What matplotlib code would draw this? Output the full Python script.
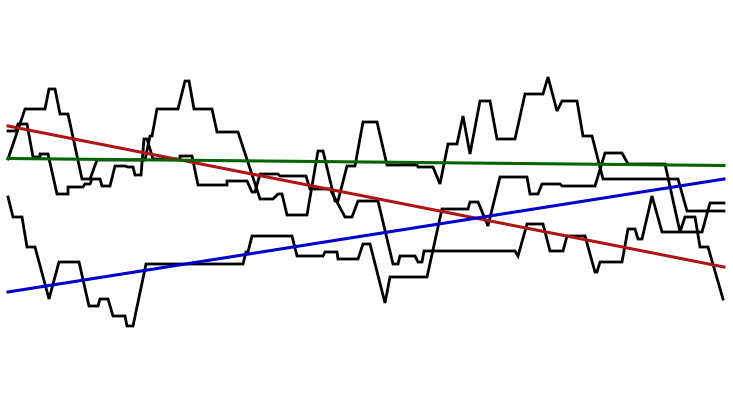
import numpy as np
import matplotlib
matplotlib.use("Agg")
import matplotlib.pyplot as plt

# three walks (x = position, y = level, axis runs downward)
walk_a_x = [8, 25, 45, 49, 55, 60, 68, 82, 90, 97, 145, 150, 152, 157, 178, 185, 189, 194, 212, 217,
            238, 260, 273, 278, 282, 287, 307, 318, 323, 335, 338, 347, 355, 363, 377, 387, 417, 418, 433, 440,
            448, 457, 463, 470, 480, 490, 497, 515, 525, 543, 548, 557, 562, 577, 583, 592, 603, 678, 687, 724]
walk_a_y = [160, 110, 110, 90, 90, 115, 115, 180, 180, 161, 161, 137, 137, 110, 110, 82, 82, 110, 110, 133,
            133, 200, 200, 195, 195, 216, 216, 152, 152, 202, 202, 167, 167, 123, 123, 166, 166, 168, 168, 185,
            145, 145, 117, 155, 102, 102, 140, 140, 95, 95, 78, 112, 102, 102, 137, 137, 180, 180, 212, 212]

walk_b_x = [8, 13, 22, 27, 35, 49, 59, 79, 89, 98, 100, 108, 113, 125, 127, 133, 146, 243, 246, 248,
            252, 292, 297, 323, 325, 337, 338, 358, 363, 370, 385, 390, 427, 442, 468, 470, 478, 488, 500, 527,
            530, 538, 542, 560, 562, 595, 605, 622, 628, 665, 680, 685, 695, 700, 708, 723]
walk_b_y = [198, 218, 218, 248, 248, 300, 263, 263, 307, 307, 300, 300, 317, 317, 327, 327, 265, 265, 253, 253,
            237, 237, 257, 257, 253, 253, 260, 260, 245, 245, 304, 278, 278, 210, 210, 203, 203, 227, 178, 178,
            195, 195, 185, 185, 187, 187, 154, 154, 165, 165, 233, 218, 218, 248, 248, 300]

walk_c_x = [8, 16, 18, 27, 33, 40, 40, 48, 57, 68, 68, 83, 85, 90, 92, 100, 102, 110, 115, 125,
            128, 133, 135, 141, 144, 147, 153, 180, 180, 192, 198, 227, 227, 247, 252, 255, 260, 278, 280, 306,
            310, 330, 345, 352, 358, 378, 393, 398, 400, 415, 418, 422, 424, 515, 518, 527, 543, 550, 563, 567,
            585, 595, 597, 600, 622, 628, 635, 638, 642, 652, 662, 702, 710, 724]
walk_c_y = [132, 132, 125, 125, 158, 158, 155, 155, 195, 195, 188, 188, 185, 185, 180, 180, 187, 187, 167, 167,
            168, 168, 176, 176, 140, 140, 160, 160, 157, 157, 186, 186, 182, 182, 193, 193, 175, 175, 177, 177,
            190, 190, 218, 218, 202, 202, 265, 265, 257, 257, 263, 263, 252, 252, 257, 225, 225, 252, 252, 237,
            237, 273, 273, 263, 263, 230, 230, 240, 240, 197, 233, 233, 204, 204]

# trend lines: start and end of each
trend_x = [8, 724]
trend_red = [127, 268]
trend_green = [159.5, 166.5]
trend_blue = [293, 180]

fig = plt.figure(figsize=(7.33, 4.14), dpi=100)
ax = fig.add_axes([0, 0, 1, 1])

for xs, ys in [(walk_a_x, walk_a_y), (walk_b_x, walk_b_y), (walk_c_x, walk_c_y)]:
    ax.plot(xs, ys, color="black", lw=2.0, solid_joinstyle="miter")

ax.plot(trend_x, trend_red, color="#b01515", lw=2.2)
ax.plot(trend_x, trend_green, color="#006400", lw=2.2)
ax.plot(trend_x, trend_blue, color="#0000cc", lw=2.2)

ax.set_xlim(0, 733)
ax.set_ylim(414, 0)
ax.axis("off")

fig.savefig("out.png", dpi=100)
